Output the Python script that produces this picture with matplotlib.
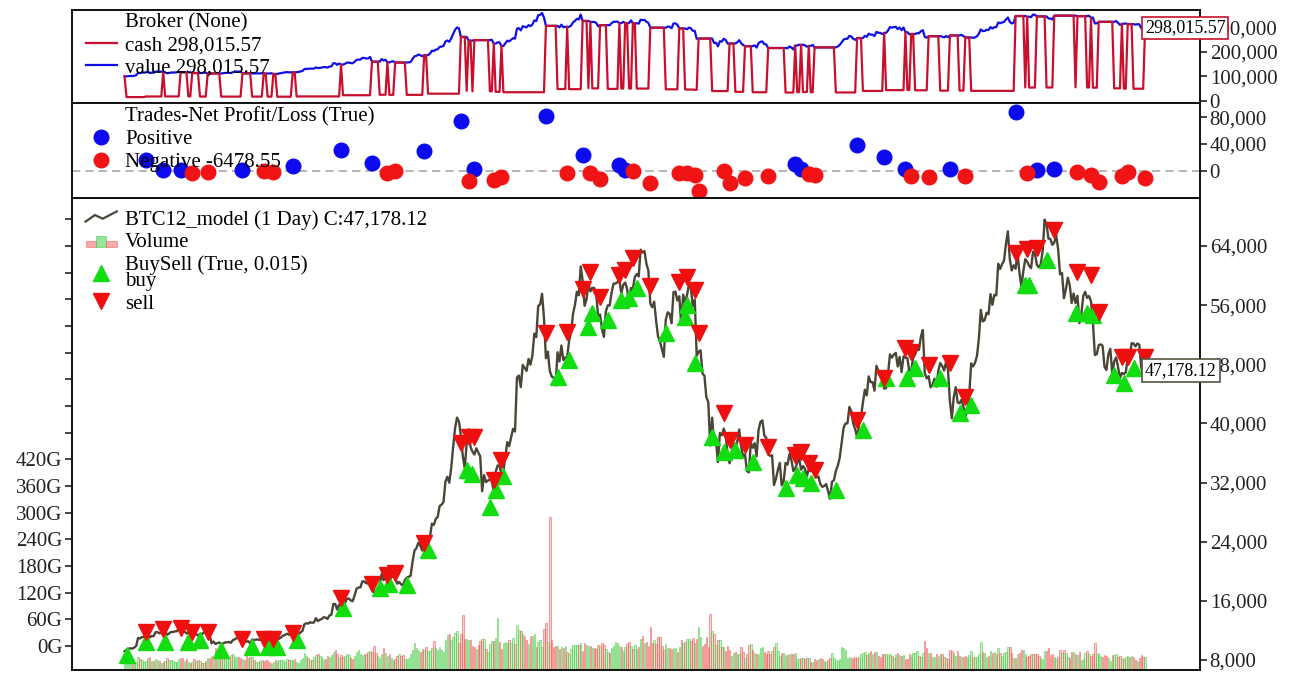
import numpy as np
import matplotlib
matplotlib.use("Agg")
import matplotlib.pyplot as plt
from matplotlib.lines import Line2D
from matplotlib.patches import Rectangle
from matplotlib.legend_handler import HandlerBase
from matplotlib.ticker import FuncFormatter, FixedLocator

plt.rcParams['font.family'] = ['Liberation Serif', 'DejaVu Serif']

# ---------------- data: daily close (USD), 2020-07-20 .. 2021-12-30 ----------------
jul20 = [9164, 9374, 9525, 9581, 9536, 9677, 9905, 10990, 10912, 11100, 11111, 11323]
aug20 = [11759, 11053, 11246, 11205, 11747, 11779, 11601, 11754, 11675, 11878, 11410, 11584, 11784, 11786, 11866, 11892,
         12254, 11991, 11758, 11878, 11592, 11681, 11664, 11774, 11366, 11488, 11323, 11542, 11507, 11711, 11680]
sep20 = [11970, 11414, 10245, 10511, 10169, 10280, 10370, 10131, 10242, 10363, 10400, 10443, 10324, 10680, 10796, 10974,
         10948, 10944, 11094, 10938, 10462, 10538, 10246, 10760, 10692, 10750, 10776, 10709, 10844, 10784]
oct20 = [10620, 10575, 10550, 10677, 10797, 10602, 10668, 10915, 11065, 11296, 11384, 11555, 11426, 11430, 11505, 11322,
         11358, 11483, 11742, 11916, 12823, 12965, 12931, 13108, 13031, 13075, 13654, 13271, 13437, 13546, 13781]
nov20 = [13737, 13550, 14028, 14133, 15579, 15565, 14833, 15479, 15332, 15290, 15701, 16276, 16317, 16068, 15955, 16716,
         17645, 17804, 17817, 18621, 18642, 18370, 18364, 19107, 18732, 17150, 17108, 17718, 18177, 19625]
dec20 = [18802, 19201, 19445, 18699, 19154, 19345, 19191, 18321, 18553, 18264, 18058, 18803, 19142, 19246, 19417, 21310,
         22806, 23132, 23869, 23477, 22803, 23783, 23241, 23735, 24665, 26437, 26272, 27084, 27362, 28841, 29002]
jan21 = [29374, 32127, 32782, 31971, 33992, 36825, 39371, 40797, 40254, 38356, 35567, 33923, 37316, 39187, 36825, 36178,
         35792, 36631, 36070, 35548, 30826, 33006, 32067, 32289, 32367, 32569, 30432, 33467, 34316, 34270, 33115]
feb21 = [33537, 35510, 37473, 36927, 38144, 39266, 38904, 46196, 46482, 44919, 47909, 47504, 47106, 48717, 47945, 49200,
         52149, 51679, 55888, 56100, 57539, 54207, 48825, 49705, 47093, 46340, 46188, 45137]
mar21 = [49631, 48378, 50538, 48561, 48927, 48912, 51206, 52246, 54824, 56008, 57805, 57332, 61243, 59302, 55907, 56804,
         58870, 57858, 58346, 58313, 57523, 54529, 54738, 52774, 51704, 55137, 55974, 55948, 57750, 58917, 58918]
apr21 = [59095, 59384, 57604, 58759, 59057, 58192, 56048, 58323, 58245, 59793, 60204, 59894, 63503, 63110, 63314, 61572,
         60684, 56216, 55724, 56473, 53906, 51762, 51094, 50051, 49004, 54021, 55033, 54824, 53555, 57750]
may21 = [57828, 56631, 57200, 53333, 57424, 56397, 57356, 58803, 58232, 55859, 56704, 49150, 49716, 49880, 46760, 46456,
         43538, 42909, 37002, 40782, 37304, 37536, 34770, 38705, 38403, 39294, 38436, 35698, 34616, 35678, 37333]
jun21 = [36685, 37575, 39188, 36851, 35520, 35796, 33552, 33380, 37388, 36702, 37334, 35553, 39097, 40218, 40407, 38348,
         38053, 35787, 35615, 35698, 31676, 32505, 33724, 34663, 31637, 32186, 34649, 34434, 35867, 35041]
jul21 = [33572, 33897, 34668, 35288, 33747, 34235, 33855, 32877, 33798, 33520, 34240, 33155, 32702, 32822, 31780, 31421,
         31533, 31797, 30817, 29807, 32110, 32314, 33581, 34292, 35350, 37337, 39406, 39995, 40008, 42236, 41626]
aug21 = [39974, 39201, 38152, 39747, 40870, 42817, 44556, 43791, 46366, 45585, 45594, 44429, 47794, 47096, 47047, 45993,
         44696, 44801, 46718, 49340, 48905, 49322, 49546, 47707, 48993, 46943, 49058, 48903, 48847, 47054, 47166]
sep21 = [48848, 49327, 50025, 49944, 51753, 52633, 46811, 46091, 46391, 44884, 45201, 46063, 44963, 47092, 48177, 47784,
         47155, 48311, 47306, 43012, 40694, 43574, 44896, 42844, 42716, 43208, 42236, 41034, 41564, 43791]
oct21 = [48116, 47712, 48200, 49112, 51515, 55361, 53805, 53967, 54969, 54772, 57484, 56041, 57401, 57321, 61593, 60892,
         61553, 62026, 64262, 65992, 62210, 60692, 61393, 60931, 63039, 60364, 58483, 60623, 62228, 61889, 61319]
nov21 = [61004, 63227, 62970, 61453, 61125, 61528, 63327, 67566, 66971, 64995, 64950, 64155, 64469, 65466, 63557, 60161,
         60368, 56942, 58119, 59697, 58731, 56289, 57569, 56281, 57274, 53570, 54816, 57249, 57807, 56986]
dec21 = [57229, 56509, 53713, 49254, 49368, 50582, 50700, 50504, 47673, 47243, 49362, 50098, 46737, 48379, 48936, 47637,
         46132, 46834, 46681, 46914, 48896, 48623, 50838, 50820, 50429, 50809, 50640, 47588, 46444, 47178.12]

# daily volume in billions (G)
vjul20 = [13, 16, 16, 18, 16, 13, 18, 30, 24, 22, 19, 21]
vaug20 = [26, 30, 20, 21, 25, 22, 21, 16, 17, 21, 27, 22, 23, 21, 18, 17, 24, 26, 26, 20, 24, 18, 16, 19, 24, 21, 22, 20, 16, 16, 21]
vsep20 = [27, 28, 31, 30, 49, 42, 36, 42, 33, 32, 33, 28, 34, 36, 29, 29, 30, 27, 25, 22, 33, 28, 29, 29, 23, 18, 18, 21, 23, 21]
voct20 = [23, 22, 17, 16, 19, 23, 20, 22, 23, 22, 18, 24, 23, 22, 22, 24, 17, 15, 22, 27, 38, 32, 27, 23, 22, 29, 33, 35, 31, 30, 25]
vnov20 = [24, 31, 30, 34, 40, 45, 35, 28, 34, 30, 31, 36, 34, 26, 24, 31, 40, 45, 36, 34, 37, 37, 41, 43, 41, 55, 39, 31, 27, 35]
vdec20 = [49, 38, 31, 35, 26, 22, 24, 31, 35, 31, 34, 24, 25, 27, 35, 44, 61, 49, 44, 41, 47, 46, 52, 42, 42, 50, 66, 49, 45, 51, 46]
vjan21 = [40, 67, 78, 81, 67, 75, 84, 88, 61, 80, 123, 70, 69, 67, 68, 53, 52, 48, 57, 66, 70, 70, 48, 41, 59, 66, 65, 71, 117, 62, 48]
vfeb21 = [61, 63, 61, 68, 60, 71, 58, 101, 89, 87, 81, 77, 67, 58, 77, 77, 80, 52, 63, 68, 51, 92, 106, 63, 345, 68, 51, 53]
vmar21 = [53, 47, 52, 50, 53, 40, 36, 47, 57, 57, 56, 57, 60, 43, 60, 57, 55, 55, 50, 50, 47, 56, 53, 61, 56, 47, 41, 38, 50, 55, 62]
vapr21 = [60, 55, 51, 43, 52, 58, 63, 55, 47, 56, 47, 51, 69, 77, 60, 62, 53, 96, 61, 68, 58, 74, 75, 55, 45, 58, 49, 49, 47, 50]
vmay21 = [50, 40, 52, 68, 61, 62, 70, 69, 65, 71, 61, 70, 96, 75, 54, 59, 75, 52, 126, 88, 82, 57, 67, 67, 51, 51, 43, 53, 45, 31, 38]
vjun21 = [40, 37, 36, 52, 41, 27, 35, 56, 59, 44, 38, 36, 35, 50, 52, 40, 37, 43, 36, 43, 52, 61, 42, 31, 38, 39, 33, 33, 37, 35]
vjul21 = [37, 38, 24, 24, 26, 28, 24, 28, 26, 19, 18, 24, 23, 25, 26, 25, 20, 18, 23, 26, 38, 27, 22, 20, 24, 51, 49, 44, 27, 30, 27]
vaug21 = [26, 29, 28, 30, 35, 38, 41, 34, 38, 42, 35, 40, 40, 31, 30, 35, 35, 37, 33, 35, 31, 28, 37, 39, 33, 32, 34, 25, 25, 35, 34]
vsep21 = [39, 39, 43, 31, 30, 39, 65, 49, 38, 39, 30, 29, 36, 32, 37, 35, 29, 26, 24, 46, 43, 38, 31, 43, 31, 30, 30, 31, 30, 34]
voct21 = [42, 29, 26, 30, 35, 63, 40, 38, 30, 31, 42, 38, 41, 36, 50, 39, 31, 38, 40, 51, 52, 39, 27, 27, 36, 38, 44, 45, 36, 29, 32]
vnov21 = [35, 37, 36, 35, 31, 28, 25, 43, 42, 49, 33, 37, 30, 25, 30, 46, 39, 44, 39, 29, 26, 40, 41, 36, 34, 41, 22, 24, 38, 43]
vdec21 = [36, 32, 36, 61, 37, 39, 32, 29, 34, 32, 26, 21, 33, 34, 35, 30, 32, 26, 24, 30, 32, 29, 32, 29, 23, 20, 28, 33, 30, 30]

# trades: bar index of entry / exit, marker prices and net profit
trade_entry = [1, 11, 21, 33, 39, 50, 66, 74, 79, 89, 113, 132, 137, 146, 157, 177, 180, 189, 192, 196,
               224, 230, 240, 242, 250, 257, 261, 265, 280, 290, 291, 295, 304, 310, 316, 325, 342, 348, 351, 355,
               368, 382, 394, 405, 409, 422, 432, 438, 466, 468, 477, 492, 498, 501, 512, 517, 522]
trade_exit = [11, 20, 29, 35, 43, 61, 72, 77, 87, 112, 128, 136, 140, 155, 174, 178, 181, 191, 195, 218,
              229, 237, 241, 246, 256, 259, 263, 272, 287, 291, 295, 297, 310, 313, 321, 333, 347, 350, 354, 357,
              379, 393, 404, 407, 416, 427, 435, 461, 467, 472, 481, 493, 500, 504, 516, 519, 528]
buy_price = [8700, 10400, 10400, 10400, 10700, 9350, 9750, 9750, 9750, 10700, 15000, 17700, 18300, 18100, 22900,
             33700, 33200, 28700, 31000, 32900, 46300, 48600, 53000, 54900, 54000, 56700, 57000, 58300, 52200, 54400,
             56000, 48200, 38200, 36100, 36400, 34800, 31300, 33000, 32600, 31900, 31000, 39100, 46100, 46100, 47500,
             46100, 41400, 42500, 58700, 58700, 62100, 54900, 54900, 54700, 46500, 45500, 47500]
sell_price = [11800, 12200, 12300, 11800, 11800, 10850, 10850, 10850, 11650, 16400, 18300, 19500, 19800, 23800,
              37350, 38150, 38150, 32350, 35050, 52250, 52350, 58200, 60500, 57100, 60100, 60750, 62400, 58600, 59150,
              59800, 58050, 52250, 41400, 37750, 37100, 36800, 35700, 36100, 34650, 33700, 40450, 46150, 50200, 49650,
              47900, 48150, 43550, 63050, 63600, 63700, 66150, 60500, 60100, 55050, 49000, 49000, 49000]
trade_pnl = [16000, 500, 500, -3000, -2000, 500, -500, -2000, 7000, 31000, 12000, -3000, -500, 30000, 74000,
             -15000, 2000, -14000, -10000, 82000, -4000, 24000, -4000, -13000, 8000, 500, -1000, -18000, -3000,
             -3000, -7000, -31000, -1000, -19000, -11000, -7500, 10000, 3000, -4500, -6000, 38000, 21000, 3000,
             -7500, -9000, 3000, -8000, 87000, -3000, 1500, 3000, -2000, -6000, -17000, -8000, -1500, -11000]

start_cash = 100000.0
final_value = 298015.57
pos_fraction = 0.84
last_close_label = "47,178.12"
negative_label = "-6478.55"
price_ticks = [8000, 16000, 24000, 32000, 40000, 48000, 56000, 64000]
broker_ticks = [0, 100000, 200000, 300000]
pnl_ticks = [0, 40000, 80000]
vol_ticks_g = [0, 60, 120, 180, 240, 300, 360, 420, 480, 540, 600, 660, 720, 780, 840, 900, 960]
vol_labels_max_g = 420

close = np.array(jul20 + aug20 + sep20 + oct20 + nov20 + dec20 + jan21 + feb21 + mar21 + apr21 + may21 + jun21 +
                 jul21 + aug21 + sep21 + oct21 + nov21 + dec21, dtype=float)
volume = np.array(vjul20 + vaug20 + vsep20 + voct20 + vnov20 + vdec20 + vjan21 + vfeb21 + vmar21 + vapr21 + vmay21 +
                  vjun21 + vjul21 + vaug21 + vsep21 + voct21 + vnov21 + vdec21, dtype=float) * 1e9
n = len(close)
idx = np.arange(n)

# ---------------- broker (cash / value): realised from trade P/L, marked to market while open ----------------
entry_of = dict(zip(trade_entry, range(len(trade_entry))))
exit_of = dict(zip(trade_exit, range(len(trade_exit))))
cash = np.empty(n)
value = np.empty(n)
equity = start_cash
size = 0.0
entry_px = 0.0
c = equity
for i in range(n):
    if i in exit_of and size:
        equity += trade_pnl[exit_of[i]]
        size = 0.0
        c = equity
    if i in entry_of:
        size = pos_fraction * equity / close[i]
        entry_px = close[i]
        c = equity * (1 - pos_fraction)
    cash[i] = c
    value[i] = equity + size * (close[i] - entry_px) if size else equity

# ---------------- colours ----------------
CASH_C = '#c8102e'
VALUE_C = '#1010e6'
PRICE_C = '#4a4536'
BUY_C = '#11dd11'
SELL_C = '#ee0f0f'
POS_C = '#0b0bee'
NEG_C = '#f01414'
UP_C = '#3cc83c'
DN_C = '#f05a5a'
FS = 15

fig = plt.figure(figsize=(12.9, 6.73), dpi=100)
L, W = 72 / 1290, 1128 / 1290
ax1 = fig.add_axes([L, 1 - 103 / 673, W, 93 / 673])
ax2 = fig.add_axes([L, 1 - 198 / 673, W, 95 / 673])
ax3 = fig.add_axes([L, 3 / 673, W, 472 / 673])
XLIM = (-27.2, 556.4)

thousands = FuncFormatter(lambda v, p: f'{v:,.0f}')


def style_right(ax):
    ax.set_xlim(*XLIM)
    ax.set_xticks([])
    ax.yaxis.tick_right()
    ax.tick_params(axis='y', direction='out', length=5, width=1.2, labelsize=FS, pad=2, colors='#222222')
    for s in ax.spines.values():
        s.set_linewidth(1.4)
        s.set_color('#111111')


leg_kw = dict(loc='upper left', frameon=False, fontsize=FS, borderpad=0.0, borderaxespad=0.0,
              labelspacing=0.15, handlelength=1.5, handletextpad=0.4)

# ---- broker panel ----
ax1.plot(idx, value, color=VALUE_C, lw=1.6, zorder=2)
ax1.plot(idx, cash, color=CASH_C, lw=1.6, zorder=3)
style_right(ax1)
ax1.set_ylim(-8000, 370000)
ax1.yaxis.set_major_locator(FixedLocator(broker_ticks))
ax1.yaxis.set_major_formatter(thousands)
ax1.text(n - 1, final_value, f'{final_value:,.2f}', fontsize=13, ha='left', va='center', zorder=10,
         bbox=dict(boxstyle='square,pad=0.15', fc='white', ec=CASH_C, lw=1.2))
h_none = Line2D([], [], ls='none')
ax1.legend([h_none, Line2D([], [], color=CASH_C, lw=1.6), Line2D([], [], color=VALUE_C, lw=1.6)],
           ['Broker (None)', f'cash {final_value:,.2f}', f'value {final_value:,.2f}'],
           bbox_to_anchor=(0.012, 0.97), **leg_kw)

# ---- trades panel ----
tx = np.array(trade_exit)
tp = np.array(trade_pnl, dtype=float)
ax2.axhline(0, color='#a8a8a8', ls=(0, (5, 3)), lw=1.2, zorder=1)
ax2.plot(tx[tp > 0], tp[tp > 0], 'o', color=POS_C, ms=10.5, zorder=3)
ax2.plot(tx[tp <= 0], tp[tp <= 0], 'o', color=NEG_C, ms=10.5, zorder=3)
style_right(ax2)
ax2.set_ylim(-41000, 101000)
ax2.yaxis.set_major_locator(FixedLocator(pnl_ticks))
ax2.yaxis.set_major_formatter(thousands)
ax2.legend([h_none, Line2D([], [], ls='none', marker='o', color=POS_C, ms=10.5),
            Line2D([], [], ls='none', marker='o', color=NEG_C, ms=10.5)],
           ['Trades-Net Profit/Loss (True)', 'Positive', f'Negative {negative_label}'],
           bbox_to_anchor=(0.012, 0.96), **leg_kw)

# ---- main panel ----
ax_vb = ax3.twinx()
ax_vb.set_ylim(0, 1062e9)
ax_vb.axis('off')
up = np.r_[True, close[1:] >= close[:-1]]
fcols = [(0.35, 0.85, 0.35, 0.35) if u else (0.95, 0.4, 0.4, 0.35) for u in up]
ecols = [(0.3, 0.8, 0.3, 0.75) if u else (0.95, 0.35, 0.35, 0.75) for u in up]
ax_vb.bar(idx, volume, width=0.75, color=fcols, edgecolor=ecols, lw=0.5)

ax_vl = ax3.twinx()
ax_vl.yaxis.tick_left()
ax_vl.set_ylim(-54e9, 1008e9)
ax_vl.yaxis.set_major_locator(FixedLocator([g * 1e9 for g in vol_ticks_g]))
ax_vl.yaxis.set_major_formatter(FuncFormatter(
    lambda v, p: f'{v / 1e9:.0f}G' if v <= vol_labels_max_g * 1e9 + 1 else ''))
ax_vl.tick_params(axis='y', direction='out', length=5, width=1.2, labelsize=FS, pad=2, colors='#222222')
for s in ax_vl.spines.values():
    s.set_visible(False)

ax3.set_zorder(ax_vb.get_zorder() + 2)
ax3.patch.set_visible(False)
ax3.plot(idx, close, color=PRICE_C, lw=1.7, zorder=3)
te = np.array(trade_entry)
ax3.plot(te, buy_price, ls='none', marker='^', color=BUY_C, ms=12, zorder=4)
ax3.plot(tx, sell_price, ls='none', marker='v', color=SELL_C, ms=12, zorder=4)
style_right(ax3)
ax3.set_ylim(6647, 70493)
ax3.yaxis.set_major_locator(FixedLocator(price_ticks))
ax3.yaxis.set_major_formatter(thousands)
ax3.text(n - 1, close[-1], last_close_label, fontsize=13, ha='left', va='center', zorder=10,
         bbox=dict(boxstyle='square,pad=0.15', fc='white', ec='#555544', lw=1.2))


class ZigZagHandler(HandlerBase):
    def create_artists(self, legend, orig_handle, xdescent, ydescent, width, height, fontsize, trans):
        xs = np.array([0.0, 0.3, 0.55, 1.0]) * width - xdescent
        ys = np.array([0.2, 0.65, 0.4, 0.9]) * height - ydescent
        return [Line2D(xs, ys, color=PRICE_C, lw=1.6, transform=trans)]


class VolHandler(HandlerBase):
    def create_artists(self, legend, orig_handle, xdescent, ydescent, width, height, fontsize, trans):
        arts = []
        w = width / 3
        for k, (hf, col) in enumerate([(0.45, DN_C), (0.8, UP_C), (0.45, DN_C)]):
            r = Rectangle((k * w - xdescent, -ydescent), w, hf * height, transform=trans,
                          fc=col, ec=col, alpha=0.5, lw=0.8)
            arts.append(r)
        return arts


h_price = object()
h_vol = object()
h_buy = Line2D([], [], ls='none', marker='^', color=BUY_C, ms=12)
h_sell = Line2D([], [], ls='none', marker='v', color=SELL_C, ms=12)
leg3 = ax3.legend([h_price, h_vol, h_buy, h_sell],
                  [f'BTC12_model (1 Day) C:{last_close_label}', 'Volume', 'BuySell (True, 0.015)\nbuy', 'sell'],
                  handler_map={h_price: ZigZagHandler(), h_vol: VolHandler()},
                  bbox_to_anchor=(0.012, 0.975), **leg_kw)
for t in leg3.get_texts():
    t.set_linespacing(0.78)

fig.savefig('out.png', dpi=100)
